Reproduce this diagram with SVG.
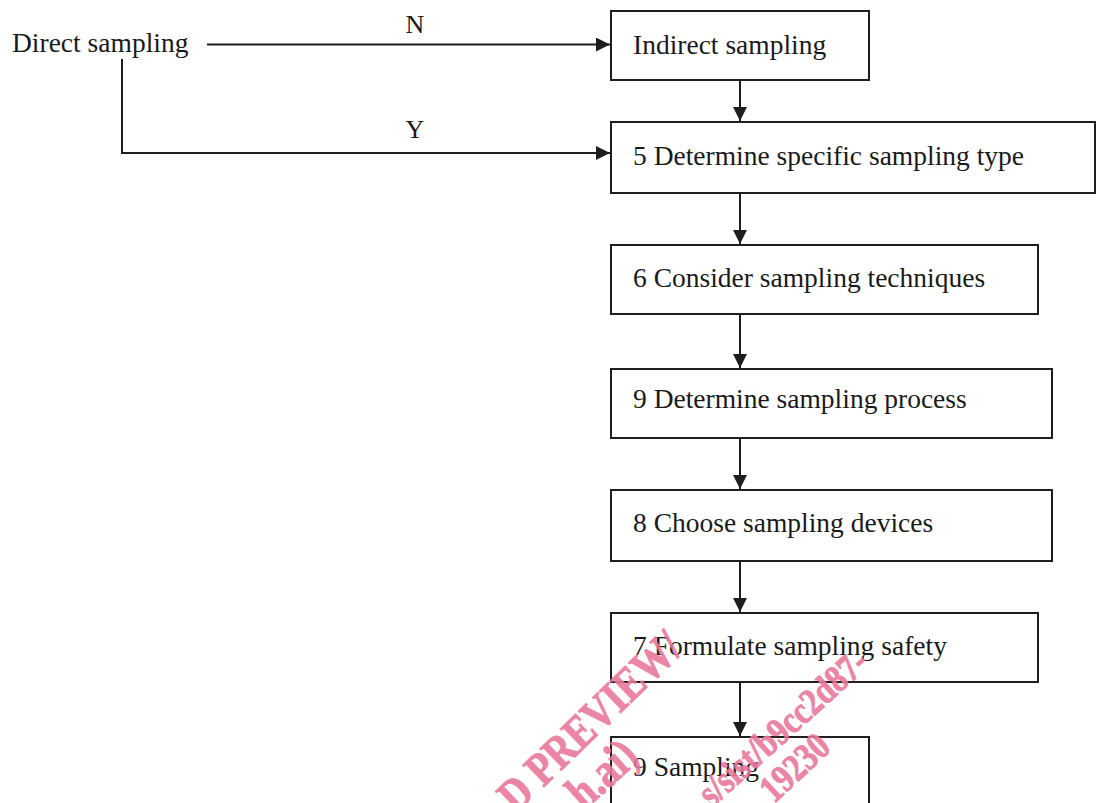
<svg xmlns="http://www.w3.org/2000/svg" width="1096" height="803" viewBox="0 0 1096 803">
  <style>
    .box { fill: #ffffff; stroke: #1e1e1e; stroke-width: 2; }
    .lbl { font-family: "Liberation Serif", "Times New Roman", serif; font-size: 27.5px; fill: #1a1a1a; }
    .yn { font-family: "Liberation Serif", "Times New Roman", serif; font-size: 26px; fill: #1a1a1a; text-anchor: middle; }
    .wire { fill: none; stroke: #1e1e1e; stroke-width: 2; }
    .wm { font-family: "Liberation Serif", "Times New Roman", serif; font-weight: bold; fill: #e9789c; stroke: #e9789c; stroke-width: 0.8; }
  </style>
  <defs>
    <marker id="arrow" viewBox="0 0 14 14" refX="14" refY="7" markerWidth="14" markerHeight="14" markerUnits="userSpaceOnUse" orient="auto">
      <path d="M0,0 L14,7 L0,14 Z" fill="#1e1e1e"/>
    </marker>
  </defs>

  <rect width="1096" height="803" fill="#ffffff"/>

  <!-- connectors -->
  <g id="connectors">
    <path class="wire" d="M207,44.5 H610" marker-end="url(#arrow)"/>
    <path class="wire" d="M122,59 V153 H610" marker-end="url(#arrow)"/>
    <path class="wire" d="M740,80 V121" marker-end="url(#arrow)"/>
    <path class="wire" d="M740,193 V244" marker-end="url(#arrow)"/>
    <path class="wire" d="M740,314 V368" marker-end="url(#arrow)"/>
    <path class="wire" d="M740,438 V489" marker-end="url(#arrow)"/>
    <path class="wire" d="M740,561 V612" marker-end="url(#arrow)"/>
    <path class="wire" d="M740,682 V736" marker-end="url(#arrow)"/>
    <text class="yn" x="415" y="33">N</text>
    <text class="yn" x="415" y="138">Y</text>
  </g>

  <!-- nodes -->
  <g id="node-direct">
    <text class="lbl" x="12" y="52">Direct sampling</text>
  </g>
  <g id="node-indirect">
    <rect class="box" x="611" y="11" width="258" height="69"/>
    <text class="lbl" x="633" y="54">Indirect sampling</text>
  </g>
  <g id="node-type">
    <rect class="box" x="611" y="122" width="484" height="71"/>
    <text class="lbl" x="633" y="165">5 Determine specific sampling type</text>
  </g>
  <g id="node-techniques">
    <rect class="box" x="611" y="245" width="427" height="69"/>
    <text class="lbl" x="633" y="287">6 Consider sampling techniques</text>
  </g>
  <g id="node-process">
    <rect class="box" x="611" y="369" width="441" height="69"/>
    <text class="lbl" x="633" y="408">9 Determine sampling process</text>
  </g>
  <g id="node-devices">
    <rect class="box" x="611" y="490" width="441" height="71"/>
    <text class="lbl" x="633" y="532">8 Choose sampling devices</text>
  </g>
  <g id="node-safety">
    <rect class="box" x="611" y="613" width="427" height="69"/>
    <text class="lbl" x="633" y="655">7 Formulate sampling safety</text>
  </g>
  <g id="node-sampling">
    <rect class="box" x="611" y="737" width="258" height="80"/>
    <text class="lbl" x="633" y="776">9 Sampling</text>
  </g>

  <!-- preview stamp, running diagonally over the lower boxes -->
  <g id="stamp" opacity="0.9">
    <text class="wm" font-size="39" transform="translate(516 814) rotate(-44) scale(1 1.2)">D PREVIEW/</text>
    <text class="wm" font-size="40" transform="translate(584 811) rotate(-42) scale(1 1.2)">h.ai)</text>
    <text class="wm" font-size="32" transform="translate(712 808) rotate(-42) scale(1 1.2)">s/sist/b9cc2d87-</text>
    <text class="wm" font-size="32" transform="translate(774 804) rotate(-43) scale(1 1.2)">19230</text>
  </g>
</svg>
